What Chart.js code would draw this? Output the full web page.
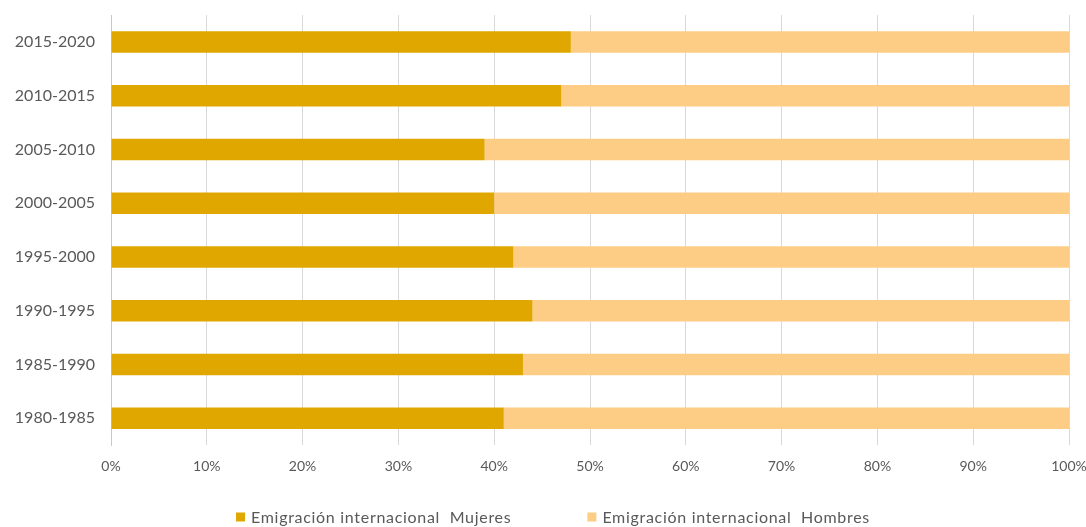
<!DOCTYPE html>
<html>
<head>
<meta charset="utf-8">
<script src="https://cdn.jsdelivr.net/npm/chart.js@4"></script>
<style>
  html, body { margin: 0; padding: 0; background: #fff; }
  #wrap { width: 1086px; height: 527px; }
</style>
</head>
<body>
<div id="wrap"><canvas id="emigrationChart" width="1086" height="527"></canvas></div>
<script>
const periods = ["2015-2020", "2010-2015", "2005-2010", "2000-2005", "1995-2000", "1990-1995", "1985-1990", "1980-1985"];
const womenShare = [48, 47, 39, 40, 42, 44, 43, 41];
const menShare = [52, 53, 61, 60, 58, 56, 57, 59];
const xTicks = [0, 10, 20, 30, 40, 50, 60, 70, 80, 90, 100];
const seriesLabels = ["Emigración internacional  Mujeres", "Emigración internacional  Hombres"];

const textColor = "#595959";

// legend drawn by hand so the wide gap between the two items can be kept
const bottomLegend = {
  id: "bottomLegend",
  afterDraw(chart) {
    const ctx = chart.ctx;
    const sets = chart.data.datasets;
    const gap = 76;
    const box = 9;
    ctx.save();
    ctx.font = "16px Lato";
    ctx.letterSpacing = "0.7px";
    const widths = sets.map((ds) => box + 6 + ctx.measureText(ds.label).width);
    const total = widths.reduce((a, b) => a + b, 0) + gap * (sets.length - 1);
    let x = 553 - total / 2;
    const y = 517;
    sets.forEach((ds, i) => {
      ctx.fillStyle = ds.backgroundColor;
      ctx.fillRect(x, y - box / 2, box, box);
      ctx.fillStyle = textColor;
      ctx.textBaseline = "middle";
      ctx.textAlign = "left";
      ctx.fillText(ds.label, x + box + 6, y + 1);
      x += widths[i] + gap;
    });
    ctx.restore();
  },
};

new Chart(document.getElementById("emigrationChart"), {
  type: "bar",
  data: {
    labels: periods,
    datasets: [
      {
        label: seriesLabels[0],
        data: womenShare,
        backgroundColor: "#DFA700",
        categoryPercentage: 1,
        barPercentage: 0.4,
      },
      {
        label: seriesLabels[1],
        data: menShare,
        backgroundColor: "#FDCD85",
        categoryPercentage: 1,
        barPercentage: 0.4,
      },
    ],
  },
  options: {
    indexAxis: "y",
    responsive: false,
    animation: false,
    layout: { padding: { top: 15, right: 17, left: 0, bottom: 0 } },
    plugins: {
      legend: { display: false },
      tooltip: { enabled: false },
    },
    scales: {
      x: {
        stacked: true,
        min: 0,
        max: 100,
        afterBuildTicks: (scale) => {
          scale.ticks = xTicks.map((v) => ({ value: v }));
        },
        afterFit: (scale) => {
          scale.height = 82;
          scale.paddingLeft = 0;
          scale.paddingRight = 0;
        },
        grid: { color: "#d9d9d9", lineWidth: 1, drawTicks: false },
        border: { display: false },
        ticks: {
          padding: 13,
          color: textColor,
          font: { family: "Lato", size: 14 },
          callback: (v) => v + "%",
        },
      },
      y: {
        stacked: true,
        afterFit: (scale) => {
          scale.width = 111;
          scale.paddingTop = 0;
          scale.paddingBottom = 0;
        },
        grid: { display: false, drawTicks: false },
        border: { display: true, color: "#c8c8c8", width: 1 },
        ticks: {
          padding: 16,
          color: textColor,
          font: { family: "Lato", size: 16 },
        },
      },
    },
  },
  plugins: [bottomLegend],
});
</script>
</body>
</html>
